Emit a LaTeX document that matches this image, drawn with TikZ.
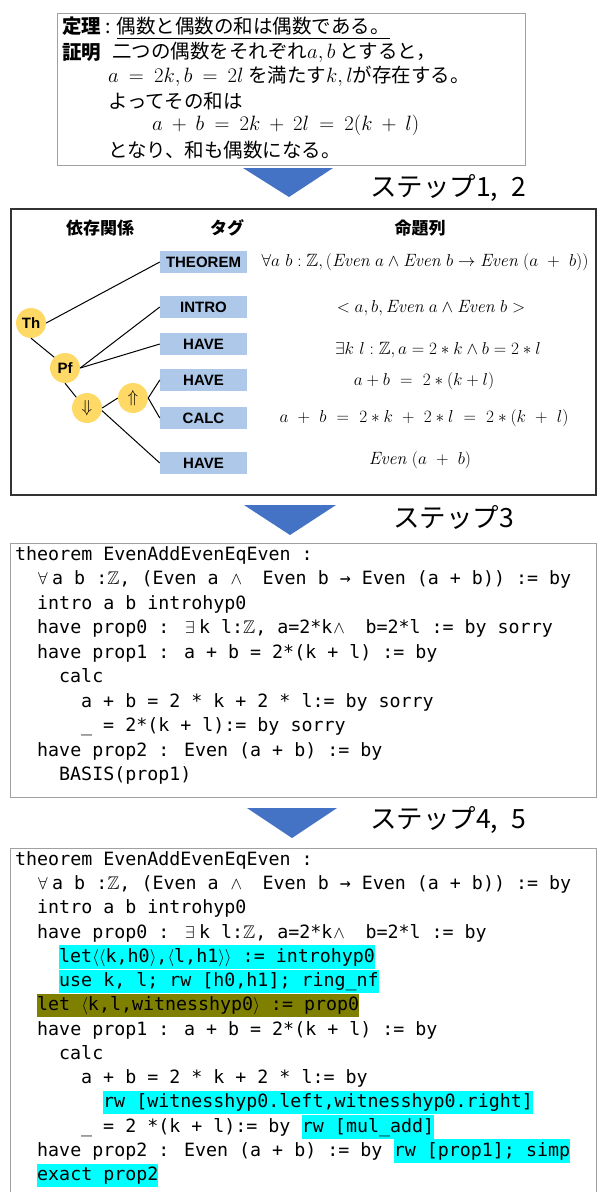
\documentclass[tikz,border=0pt]{standalone}
\usepackage{amsmath,amssymb}
\usepackage{fontspec}
\usetikzlibrary{positioning}

\newfontfamily\jpfont{Noto Sans CJK JP}
\newfontfamily\tagfamily{Liberation Sans}
\newfontfamily\codefont{DejaVu Sans Mono}
\newcommand\tagfont{\tagfamily\bfseries\fontsize{15}{18}\selectfont}
% wider cells for the math signs inside the code
\newcommand\cforall{\makebox[15pt][l]{\hspace{1pt}$\forall$}}
\newcommand\cexists{\makebox[15pt][l]{\hspace{1pt}$\exists$}}
\newcommand\cand{\makebox[22pt][l]{\hspace{1pt}$\wedge$}}

\definecolor{tagblue}{HTML}{ADC8E8}
\definecolor{nodegold}{HTML}{FFD966}
\definecolor{arrowblue}{HTML}{4472C4}
\definecolor{hlcyan}{HTML}{00FFFF}
\definecolor{hlolive}{HTML}{808000}
\definecolor{framegray}{HTML}{A0A0A0}

\begin{document}
\begin{tikzpicture}[x=1pt,y=-1pt,
    tagbox/.style={fill=tagblue, minimum width=87pt, minimum height=22pt, inner sep=0pt, font=\tagfont},
    depnode/.style={circle, fill=nodegold, minimum size=30pt, inner sep=0pt, font=\tagfont},
    header/.style={font=\jpfont\bfseries\fontsize{17}{20}\selectfont},
    propline/.style={font=\fontsize{17.8}{20}\selectfont},
    jptext/.style={anchor=west, inner sep=0pt, font=\jpfont\fontsize{19.5}{24}\selectfont},
    steplabel/.style={anchor=west, inner sep=0pt, font=\jpfont\fontsize{26.5}{30}\selectfont},
    codeline/.style={anchor=west, inner sep=0pt, text height=17pt, text depth=6.5pt, font=\codefont\fontsize{18.3}{24}\selectfont},
    cyanline/.style={codeline, fill=hlcyan},
    oliveline/.style={codeline, fill=hlolive},
    panelframe/.style={draw=framegray, line width=0.8pt},
    deplink/.style={line width=1pt}]
    \useasboundingbox (0,0) rectangle (597,1192);

    % statement in words
    \draw[panelframe] (57,13) rectangle (525,165);
    \node[jptext] (thmhead) at (62,28) {\textbf{定理} : \underline{偶数と偶数の和は偶数である。}};
    \node[jptext] (pfhead) at (62,52) {\textbf{証明}};
    \node[jptext] (pf1) at (112,52) {二つの偶数をそれぞれ$a,b$ とすると，};
    \node[jptext] (pf2) at (108,76) {$a\ =\ 2k,b\ =\ 2l$ を満たす$k,l$が存在する。};
    \node[jptext] (pf3) at (108,101) {よってその和は};
    \node[jptext] (pf4) at (152,125) {$a\ +\ b\ =\ 2k\ +\ 2l\ =\ 2(k\ +\ l)$};
    \node[jptext] (pf5) at (108,150) {となり、和も偶数になる。};

    \fill[arrowblue] (243,168) -- (333,168) -- (289,197) -- cycle;
    \node[steplabel] (step12) at (370,188) {ステップ1,\hspace{0.5em}2};

    % dependency tree
    \draw[black!80, line width=1.3pt] (11,209) rectangle (596,495);
    \node[header] (hdep) at (100,228) {依存関係};
    \node[header] (htag) at (227,228) {タグ};
    \node[header] (hprop) at (420,228) {命題列};

    \node[tagbox] (tthm) at (203.5,262) {THEOREM};
    \node[tagbox] (tintro) at (203.5,307) {INTRO};
    \node[tagbox] (thave0) at (203.5,344) {HAVE};
    \node[tagbox] (thave1) at (203.5,380) {HAVE};
    \node[tagbox] (tcalc) at (203.5,418) {CALC};
    \node[tagbox] (thave2) at (203.5,463) {HAVE};

    \node[depnode] (th) at (31,323) {Th};
    \node[depnode] (pf) at (65,368) {Pf};
    \node[depnode, font=\fontsize{18}{20}\selectfont] (dn) at (87,408) {$\Downarrow$};
    \node[depnode, font=\fontsize{18}{20}\selectfont] (up) at (133,398) {$\Uparrow$};

    \draw[deplink] (th.east) -- (tthm.west);
    \draw[deplink] (th.south) -- (pf.north west);
    \draw[deplink] (pf.east) -- (tintro.west);
    \draw[deplink] (pf.east) -- (thave0.west);
    \draw[deplink] (pf.south) -- (dn.north west);
    \draw[deplink] (dn.east) -- (up.west);
    \draw[deplink] (dn.-10) -- (thave2.west);
    \draw[deplink] (up.east) -- (thave1.west);
    \draw[deplink] (up.east) -- (tcalc.west);

    \node[propline] (p0) at (425,262) {$\forall a\ b:\mathbb{Z},(\mathit{Even}\ a\wedge\mathit{Even}\ b\rightarrow\mathit{Even}\ (a\ +\ b))$};
    \node[propline] (p1) at (431,308) {$<a,b,\mathit{Even}\ a\wedge\mathit{Even}\ b>$};
    \node[propline] (p2) at (438,350) {$\exists k\ l:\mathbb{Z},a=2\ast k\wedge b=2\ast l$};
    \node[propline] (p3) at (424,381) {$a+b\ =\ 2\ast(k+l)$};
    \node[propline] (p4) at (424,418) {$a\ +\ b\ =\ 2\ast k\ +\ 2\ast l\ =\ 2\ast(k\ +\ l)$};
    \node[propline] (p5) at (420,460) {$\mathit{Even}\ (a\ +\ b)$};

    \fill[arrowblue] (244,505) -- (336,505) -- (290,535) -- cycle;
    \node[steplabel] (step3) at (393,517) {ステップ3};

    % skeleton with sorry
    \draw[panelframe] (10,543) rectangle (596,797);
    \node[codeline] (a0) at (15,555) {theorem EvenAddEvenEqEven :};
    \node[codeline] (a1) at (37,579.5) {\cforall{}a b :$\mathbb{Z}$, (Even a \cand{} Even b → Even (a + b)) := by};
    \node[codeline] (a2) at (37,604) {intro a b introhyp0};
    \node[codeline] (a3) at (37,628.5) {have prop0 : \cexists{}k l:$\mathbb{Z}$, a=2*k\cand{} b=2*l := by sorry};
    \node[codeline] (a4) at (37,653) {have prop1 : a + b = 2*(k + l) := by};
    \node[codeline] (a5) at (59,677.5) {calc};
    \node[codeline] (a6) at (81,702) {a + b = 2 * k + 2 * l:= by sorry};
    \node[codeline] (a7) at (81,726.5) {\_ = 2*(k + l):= by sorry};
    \node[codeline] (a8) at (37,751) {have prop2 : Even (a + b) := by};
    \node[codeline] (a9) at (59,775.5) {BASIS(prop1)};

    \fill[arrowblue] (247,808) -- (337,808) -- (292,838) -- cycle;
    \node[steplabel] (step45) at (370,820) {ステップ4,\hspace{0.5em}5};

    % completed proof
    \draw[panelframe] (10,1192) -- (10,848) -- (596,848) -- (596,1192);
    \node[codeline] (b0) at (15,860) {theorem EvenAddEvenEqEven :};
    \node[codeline] (b1) at (37,884.25) {\cforall{}a b :$\mathbb{Z}$, (Even a \cand{} Even b → Even (a + b)) := by};
    \node[codeline] (b2) at (37,908.5) {intro a b introhyp0};
    \node[codeline] (b3) at (37,932.75) {have prop0 : \cexists{}k l:$\mathbb{Z}$, a=2*k\cand{} b=2*l := by};
    \node[cyanline] (b4) at (59,957) {let$\langle\langle$k,h0$\rangle$,$\langle$l,h1$\rangle\rangle$ := introhyp0};
    \node[cyanline] (b5) at (59,981.25) {use k, l; rw [h0,h1]; ring\_nf};
    \node[oliveline] (b6) at (37,1005.5) {let $\langle$k,l,witnesshyp0$\rangle$ := prop0};
    \node[codeline] (b7) at (37,1029.75) {have prop1 : a + b = 2*(k + l) := by};
    \node[codeline] (b8) at (59,1054) {calc};
    \node[codeline] (b9) at (81,1078.25) {a + b = 2 * k + 2 * l:= by};
    \node[cyanline] (b10) at (103,1102.5) {rw [witnesshyp0.left,witnesshyp0.right]};
    \node[codeline] (b11) at (81,1126.75) {\_ = 2 *(k + l):= by};
    \node[cyanline, right=11pt of b11] (b11r) {rw [mul\_add]};
    \node[codeline] (b12) at (37,1151) {have prop2 : Even (a + b) := by};
    \node[cyanline, right=11pt of b12] (b12r) {rw [prop1]; simp};
    \node[cyanline] (b13) at (37,1175.25) {exact prop2};
\end{tikzpicture}
\end{document}
